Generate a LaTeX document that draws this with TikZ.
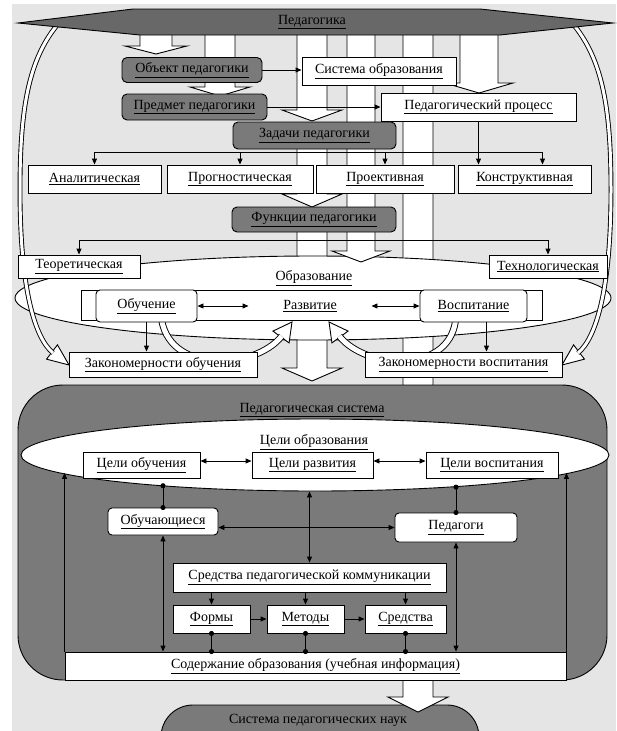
\documentclass[tikz,border=0pt]{standalone}
\usepackage{fontspec}
\setmainfont{Liberation Serif}
\usetikzlibrary{arrows.meta,shapes.geometric,calc}
\definecolor{bggray}{RGB}{229,229,229}
\definecolor{darkbox}{RGB}{122,122,122}
\definecolor{bannergray}{RGB}{104,104,104}
\newcommand{\undl}[1]{\underline{#1}}
\newcommand{\hollowdown}[5]{\filldraw[fill=white] (#1,#3) -- (#1,#4) -- (#1-15,#4) -- ({(#1+#2)/2},#5) -- (#2+15,#4) -- (#2,#4) -- (#2,#3);}
\newcommand{\openhead}[3]{\filldraw[fill=white] ($(#1)!#3pt!90:(#2)$) -- (#2) -- ($(#1)!#3pt!-90:(#2)$) -- cycle;}
\tikzset{
	boxw/.style={draw, fill=white, inner sep=0pt, minimum height=28},
	boxd/.style={draw, fill=darkbox, rounded corners=5pt, inner sep=0pt},
	arr/.style={-{Triangle[length=6pt,width=5pt]}},
	darr/.style={{Triangle[length=6pt,width=5pt]}-{Triangle[length=6pt,width=5pt]}},
	dotl/.style={{Circle[length=5pt]}-{Circle[length=5pt]}, shorten <=-2.5pt, shorten >=-2.5pt},
	tube/.style={double=white, double distance=3pt},
	utube/.style={double=white, double distance=5pt}
}
\begin{document}
\begin{tikzpicture}[x=1pt, y=-1pt, line width=0.9pt, every node/.style={font=\rmfamily\fontsize{14}{16}\selectfont}]
	\useasboundingbox (0,0) rectangle (616,731);
	\fill[bggray] (12,4) rectangle (616,731);
	\draw[fill=darkbox, rounded corners=32pt] (161,760) -- (161,705) -- (479,705) -- (479,760);
	\node (spn) at (318,720) {Система педагогических наук};
	\hollowdown{297}{327}{28}{110}{121}
	\hollowdown{297}{327}{140}{194}{207}
	\hollowdown{297}{327}{225}{368}{381}
	\hollowdown{403}{433}{28}{697}{712}
	\hollowdown{140}{172}{28}{46}{54}
	\hollowdown{205}{235}{28}{87}{96}
	\hollowdown{460}{498}{28}{83}{93}
	\node[ellipse, draw, fill=white, minimum width=596, minimum height=84, inner sep=0pt] (obr) at (313,298) {};
	\hollowdown{347}{375}{28}{251}{262}
	\openhead{52,352}{69,365}{9}
	\draw[tube] (58,24) .. controls (28,60) and (20,110) .. (20,190) .. controls (20,290) and (35,338) .. (53,353);
	\openhead{579,352}{562,365}{9}
	\draw[tube] (573,24) .. controls (603,60) and (611,110) .. (611,190) .. controls (611,290) and (596,338) .. (578,353);
	\filldraw[fill=bannergray] (18,23) -- (133,9) -- (480,9) -- (613,23) -- (500,35) -- (140,35) -- cycle;
	\node (ped) at (312,22) {\undl{Педагогика}};
	\node[boxd, minimum width=140, minimum height=25] (obj) at (192,70) {\undl{Объект педагогики}};
	\node[boxw, minimum width=154] (sis) at (379,71) {\undl{Система образования}};
	\node[boxd, minimum width=145, minimum height=26] (pred) at (194.5,107) {\undl{Предмет педагогики}};
	\node[boxw, minimum width=195] (proc) at (478.5,107) {\undl{Педагогический процесс}};
	\node[boxd, minimum width=163, minimum height=27] (zad) at (314.5,135.5) {\undl{Задачи педагогики}};
	\foreach \n/\x/\w/\t in {an/94.5/133/Аналитическая, prog/240/146/Прогностическая, proe/385/138/Проективная, kon/524.5/133/Конструктивная}
		\node[boxw, minimum width=\w] (\n) at (\x,179) {\undl{\t}};
	\node[boxd, minimum width=164, minimum height=25] (fun) at (314,219.5) {\undl{Функции педагогики}};
	\node[boxw, minimum width=122, minimum height=23] (teo) at (79,266.5) {\undl{Теоретическая}};
	\node[boxw, minimum width=118, minimum height=23] (tec) at (548,266.5) {\undl{Технологическая}};
	\draw[arr] (obj.east) -- (obj.east -| sis.west);
	\draw[arr] (pred.east) -- (pred.east -| proc.west);
	\coordinate (zbar) at (312,152);
	\draw (an.north |- zbar) -- ([xshift=18pt]kon.north |- zbar);
	\foreach \n in {an,prog,proe}
		\draw[arr] (\n.north |- zbar) -- (\n.north);
	\draw[arr] ([xshift=18pt]kon.north |- zbar) -- ([xshift=18pt]kon.north);
	\draw[arr] (proc.south) -- (proc.south |- kon.north);
	\coordinate (fbar) at (312,240);
	\draw (teo.north |- fbar) -- (tec.north |- fbar);
	\foreach \n in {teo,tec}
		\draw[arr] (\n.north |- fbar) -- (\n.north);
	\node[draw, fill=white, minimum width=461, minimum height=30, inner sep=0pt] (inr) at (311.5,305) {};
	\openhead{281,337}{292,322}{10}
	\draw[utube] (161,315) .. controls (166,375) and (255,370) .. (281.6,336.2);
	\openhead{340,337}{329,322}{10}
	\draw[utube] (456,315) .. controls (454,375) and (366,370) .. (339.4,336.2);
	\node[boxw, rounded corners=4pt, minimum width=101, minimum height=32] (obu) at (146.5,306) {\undl{Обучение}};
	\node[boxw, rounded corners=4pt, minimum width=107, minimum height=32] (vos) at (473.5,306) {\undl{Воспитание}};
	\node[minimum width=122] (raz) at (310,306) {\undl{Развитие}};
	\node (obrl) at (314,278) {\undl{Образование}};
	\node[boxw, minimum width=188, minimum height=25] (zob) at (163,364.5) {\undl{Закономерности обучения}};
	\node[boxw, minimum width=197, minimum height=25] (zvo) at (463.5,364.5) {\undl{Закономерности воспитания}};
	\draw[darr] (obu.east) -- (raz.west);
	\draw[darr] (raz.east) -- (vos.west);
	\draw[arr] (obu.south) -- (obu.south |- zob.north);
	\draw[arr] ([xshift=13pt]vos.south) -- ([xshift=13pt]vos.south |- zvo.north);
	\draw[fill=darkbox, rounded corners=45pt] (18,385) rectangle (607,680);
	\node (psl) at (312,410) {\undl{Педагогическая система}};
	\node[ellipse, draw, fill=white, minimum width=588, minimum height=72, inner sep=0pt] (cel) at (315,455) {};
	\node (cell) at (314,442) {\undl{Цели образования}};
	\node[boxw, minimum width=117, minimum height=26] (cob) at (141.5,465) {\undl{Цели обучения}};
	\node[boxw, minimum width=121, minimum height=26] (crz) at (312.5,465) {\undl{Цели развития}};
	\node[boxw, minimum width=132, minimum height=26] (cvo) at (492,465) {\undl{Цели воспитания}};
	\node[boxw, rounded corners=4pt, minimum width=110, minimum height=27] (ucs) at (163,521.5) {\undl{Обучающиеся}};
	\node[boxw, rounded corners=4pt, minimum width=122, minimum height=29] (pdg) at (456,527.5) {\undl{Педагоги}};
	\node[boxw, minimum width=273, minimum height=29] (spk) at (309.5,577.5) {\undl{Средства педагогической коммуникации}};
	\node[boxw, minimum width=77] (frm) at (211.5,619) {\undl{Формы}};
	\node[boxw, minimum width=77] (met) at (305.5,619) {\undl{Методы}};
	\node[boxw, minimum width=81] (sre) at (405.5,619) {\undl{Средства}};
	\node[boxw, minimum width=501] (sod) at (315.5,666) {\undl{Содержание образования (учебная информация)}};
	\draw[darr] ([yshift=4pt]cob.east) -- ([yshift=4pt]crz.west);
	\draw[darr] ([yshift=4pt]crz.east) -- ([yshift=4pt]cvo.west);
	\draw[dotl] (ucs.north |- cel.191) -- (ucs.north);
	\draw[dotl] (pdg.north |- cel.347) -- (pdg.north);
	\draw[darr] (pdg.west -| ucs.east) -- (pdg.west);
	\draw[darr] (spk.north |- cel.south) -- (spk.north);
	\draw[darr] (ucs.south) -- (ucs.south |- sod.north);
	\draw[darr] (pdg.south) -- (pdg.south |- sod.north);
	\draw[arr] (sod.north west) -- (sod.north west |- cel.184);
	\draw[arr] (sod.north east) -- (sod.north east |- cel.356);
	\foreach \n in {frm,met,sre}{
		\draw[arr] (spk.south -| \n.north) -- (\n.north);
		\draw[dotl] (\n.south) -- (\n.south |- sod.north);
	}
	\draw[arr] (frm) -- (met);
	\draw[arr] (met) -- (sre);
\end{tikzpicture}
\end{document}
